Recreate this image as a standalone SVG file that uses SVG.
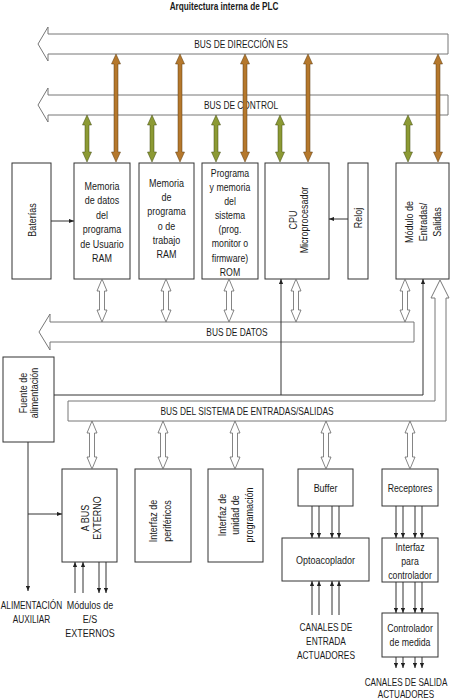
<svg xmlns="http://www.w3.org/2000/svg" width="451" height="700" viewBox="0 0 451 700">
<style>
text{font-family:"Liberation Sans","DejaVu Sans",sans-serif;font-size:11.5px;fill:#1a1a1a;text-anchor:middle}
.title{font-weight:bold;font-size:10px}
.cap{font-size:11px}
.box{fill:#fff;stroke:#333;stroke-width:1}
.bus{fill:#fff;stroke:#777;stroke-width:1}
.ln{fill:none;stroke:#333;stroke-width:1}
.hol{fill:#fff;stroke:#666;stroke-width:0.8}
.or{fill:#b5782c;stroke:#5a3a10;stroke-width:0.5}
.gr{fill:#8c9a34;stroke:#404810;stroke-width:0.5}
</style>
<defs>
<marker id="ah" viewBox="0 0 6 6" refX="6" refY="3" markerWidth="5" markerHeight="5" orient="auto" markerUnits="userSpaceOnUse"><path d="M0,0.5L6,3L0,5.5z" fill="#222"/></marker>
<path id="orA" d="M0,0L4.5,10L2,10L2,98L4.5,98L0,108L-4.5,98L-2,98L-2,10L-4.5,10z"/>
<path id="grA" d="M0,0L4.5,10L2,10L2,37L4.5,37L0,47L-4.5,37L-2,37L-2,10L-4.5,10z"/>
<path id="hA1" d="M0,0L5,12L2.5,12L2.5,31L5,31L0,43L-5,31L-2.5,31L-2.5,12L-5,12z"/>
<path id="hA2" d="M0,0L5,12L2.5,12L2.5,36L5,36L0,48L-5,36L-2.5,36L-2.5,12L-5,12z"/>
</defs>
<text class="title" transform="translate(224,10) scale(0.82,1)">Arquitectura interna de PLC</text>
<g id="buses">
<path class="bus" d="M448,34L48,34L48,27L38,44L48,61L48,54L448,54z"/>
<text class="cap" transform="translate(241,48) scale(0.76,1)">BUS DE DIRECCIÓN ES</text>
<path class="bus" d="M448,95L48,95L48,88L38,105L48,122L48,115L448,115z"/>
<text class="cap" transform="translate(241,109) scale(0.76,1)">BUS DE CONTROL</text>
<path class="bus" d="M414,322L50,322L50,314L39,332L50,350L50,342L414,342z"/>
<text class="cap" transform="translate(237,336) scale(0.76,1)">BUS DE DATOS</text>
<path class="bus" d="M68,401L435,401L435,298L431,298L440,280L449,298L446,298L446,421L68,421z"/>
<text class="cap" transform="translate(247,415) scale(0.76,1)">BUS DEL SISTEMA DE ENTRADAS/SALIDAS</text>
</g>
<g id="bateria"><rect class="box" x="12" y="163" width="39" height="116"/><text transform="translate(35.5,220) rotate(-90) scale(0.78,1)">Baterías</text></g>
<g id="mem-datos"><rect class="box" x="74" y="163" width="56" height="116"/>
<text transform="translate(102,190) scale(0.78,1)">Memoria<tspan x="0" dy="14.4">de datos</tspan><tspan x="0" dy="14.4">del</tspan><tspan x="0" dy="14.4">programa</tspan><tspan x="0" dy="14.4">de Usuario</tspan><tspan x="0" dy="14.4">RAM</tspan></text></g>
<g id="mem-prog"><rect class="box" x="139" y="163" width="55" height="116"/>
<text transform="translate(166.5,187) scale(0.78,1)">Memoria<tspan x="0" dy="14.2">de</tspan><tspan x="0" dy="14.2">programa</tspan><tspan x="0" dy="14.2">o de</tspan><tspan x="0" dy="14.2">trabajo</tspan><tspan x="0" dy="14.2">RAM</tspan></text></g>
<g id="rom"><rect class="box" x="202" y="163" width="56" height="116"/>
<text transform="translate(230,177) scale(0.76,1)">Programa<tspan x="0" dy="14.1">y memoria</tspan><tspan x="0" dy="14.1">del</tspan><tspan x="0" dy="14.1">sistema</tspan><tspan x="0" dy="14.1">(prog.</tspan><tspan x="0" dy="14.1">monitor o</tspan><tspan x="0" dy="14.1">firmware)</tspan><tspan x="0" dy="14.1">ROM</tspan></text></g>
<g id="cpu"><rect class="box" x="265" y="163" width="64" height="116"/>
<text transform="translate(297,220) rotate(-90) scale(0.78,1)">CPU<tspan x="0" dy="11">Microprocesador</tspan></text></g>
<g id="reloj"><rect class="box" x="348" y="163" width="20" height="116"/><text transform="translate(362,218) rotate(-90) scale(0.78,1)">Reloj</text></g>
<g id="modulo"><rect class="box" x="396" y="163" width="53" height="116"/>
<text transform="translate(413,222) rotate(-90) scale(0.78,1)">Módulo de<tspan x="0" dy="14">Entradas/</tspan><tspan x="0" dy="14">Salidas</tspan></text></g>
<g id="fuente"><rect class="box" x="3" y="357" width="51" height="85"/>
<text transform="translate(27,393) rotate(-90) scale(0.78,1)">Fuente de<tspan x="0" dy="11">alimentación</tspan></text></g>
<g id="abus"><rect class="box" x="62" y="469" width="55" height="93"/>
<text transform="translate(89,518) rotate(-90) scale(0.78,1)">A BUS<tspan x="0" dy="12">EXTERNO</tspan></text></g>
<g id="perif"><rect class="box" x="135" y="469" width="56" height="93"/>
<text transform="translate(157,521) rotate(-90) scale(0.78,1)">Interfaz de<tspan x="0" dy="14">periféricos</tspan></text></g>
<g id="uprog"><rect class="box" x="208" y="469" width="55" height="93"/>
<text transform="translate(226,515) rotate(-90) scale(0.78,1)">Interfaz de<tspan x="0" dy="13.5">unidad de</tspan><tspan x="0" dy="13.5">programación</tspan></text></g>
<g id="buffer"><rect class="box" x="298" y="469" width="55" height="37"/><text transform="translate(325.5,492) scale(0.78,1)">Buffer</text></g>
<g id="receptores"><rect class="box" x="382" y="469" width="56" height="37"/><text transform="translate(410,492) scale(0.76,1)">Receptores</text></g>
<g id="opto"><rect class="box" x="282" y="538" width="87" height="43"/><text transform="translate(325.5,564) scale(0.78,1)">Optoacoplador</text></g>
<g id="ifctrl"><rect class="box" x="382" y="538" width="56" height="44"/>
<text transform="translate(410,551) scale(0.76,1)">Interfaz<tspan x="0" dy="14">para</tspan><tspan x="0" dy="14">controlador</tspan></text></g>
<g id="ctrlmed"><rect class="box" x="382" y="613" width="56" height="44"/>
<text transform="translate(410,632) scale(0.76,1)">Controlador<tspan x="0" dy="14">de medida</tspan></text></g>
<g id="labels">
<text class="cap" transform="translate(31.5,609) scale(0.75,1)">ALIMENTACIÓN<tspan x="0" dy="14">AUXILIAR</tspan></text>
<text transform="translate(90,609) scale(0.78,1)">Módulos de<tspan x="0" dy="14">E/S</tspan><tspan x="0" dy="14">EXTERNOS</tspan></text>
<text class="cap" transform="translate(326,631) scale(0.76,1)">CANALES DE<tspan x="0" dy="14">ENTRADA</tspan><tspan x="0" dy="14">ACTUADORES</tspan></text>
<text class="cap" transform="translate(406,686) scale(0.74,1)">CANALES DE SALIDA<tspan x="0" dy="12.5">ACTUADORES</tspan></text>
</g>
<g id="connectors">
<use href="#orA" class="or" x="116" y="54"/>
<use href="#orA" class="or" x="180" y="54"/>
<use href="#orA" class="or" x="245" y="54"/>
<use href="#orA" class="or" x="308" y="54"/>
<use href="#orA" class="or" x="438" y="54"/>
<use href="#grA" class="gr" x="87" y="115"/>
<use href="#grA" class="gr" x="152" y="115"/>
<use href="#grA" class="gr" x="216" y="115"/>
<use href="#grA" class="gr" x="280" y="115"/>
<use href="#grA" class="gr" x="408" y="115"/>
<use href="#hA1" class="hol" x="102" y="279"/>
<use href="#hA1" class="hol" x="166" y="279"/>
<use href="#hA1" class="hol" x="229" y="279"/>
<use href="#hA1" class="hol" x="296" y="279"/>
<use href="#hA1" class="hol" x="405" y="279"/>
<use href="#hA2" class="hol" x="92" y="421"/>
<use href="#hA2" class="hol" x="163" y="421"/>
<use href="#hA2" class="hol" x="235" y="421"/>
<use href="#hA2" class="hol" x="326" y="421"/>
<use href="#hA2" class="hol" x="410" y="421"/>
<path class="ln" d="M51,221H74" marker-end="url(#ah)"/>
<path class="ln" d="M348,219H329" marker-end="url(#ah)"/>
<path class="ln" d="M54,395H423V279" marker-end="url(#ah)"/>
<path class="ln" d="M281,395V279" marker-end="url(#ah)"/>
<path class="ln" d="M28,442V591" marker-end="url(#ah)"/>
<path class="ln" d="M28,514H62" marker-end="url(#ah)"/>
<path class="ln" d="M75,593V562" marker-end="url(#ah)"/>
<path class="ln" d="M83,593V562" marker-end="url(#ah)"/>
<path class="ln" d="M99,562V593" marker-end="url(#ah)"/>
<path class="ln" d="M106,562V593" marker-end="url(#ah)"/>
<path class="ln" d="M312,506V538" marker-end="url(#ah)"/>
<path class="ln" d="M319,506V538" marker-end="url(#ah)"/>
<path class="ln" d="M332,506V538" marker-end="url(#ah)"/>
<path class="ln" d="M339,506V538" marker-end="url(#ah)"/>
<path class="ln" d="M312,615V581" marker-end="url(#ah)"/>
<path class="ln" d="M319,615V581" marker-end="url(#ah)"/>
<path class="ln" d="M332,615V581" marker-end="url(#ah)"/>
<path class="ln" d="M339,615V581" marker-end="url(#ah)"/>
<path class="ln" d="M396,506V538" marker-end="url(#ah)"/>
<path class="ln" d="M403,506V538" marker-end="url(#ah)"/>
<path class="ln" d="M415,506V538" marker-end="url(#ah)"/>
<path class="ln" d="M422,506V538" marker-end="url(#ah)"/>
<path class="ln" d="M396,582V613" marker-end="url(#ah)"/>
<path class="ln" d="M403,582V613" marker-end="url(#ah)"/>
<path class="ln" d="M415,582V613" marker-end="url(#ah)"/>
<path class="ln" d="M422,582V613" marker-end="url(#ah)"/>
<path class="ln" d="M396,657V668" marker-end="url(#ah)"/>
<path class="ln" d="M403,657V668" marker-end="url(#ah)"/>
<path class="ln" d="M415,657V668" marker-end="url(#ah)"/>
<path class="ln" d="M422,657V668" marker-end="url(#ah)"/>
</g>
</svg>
